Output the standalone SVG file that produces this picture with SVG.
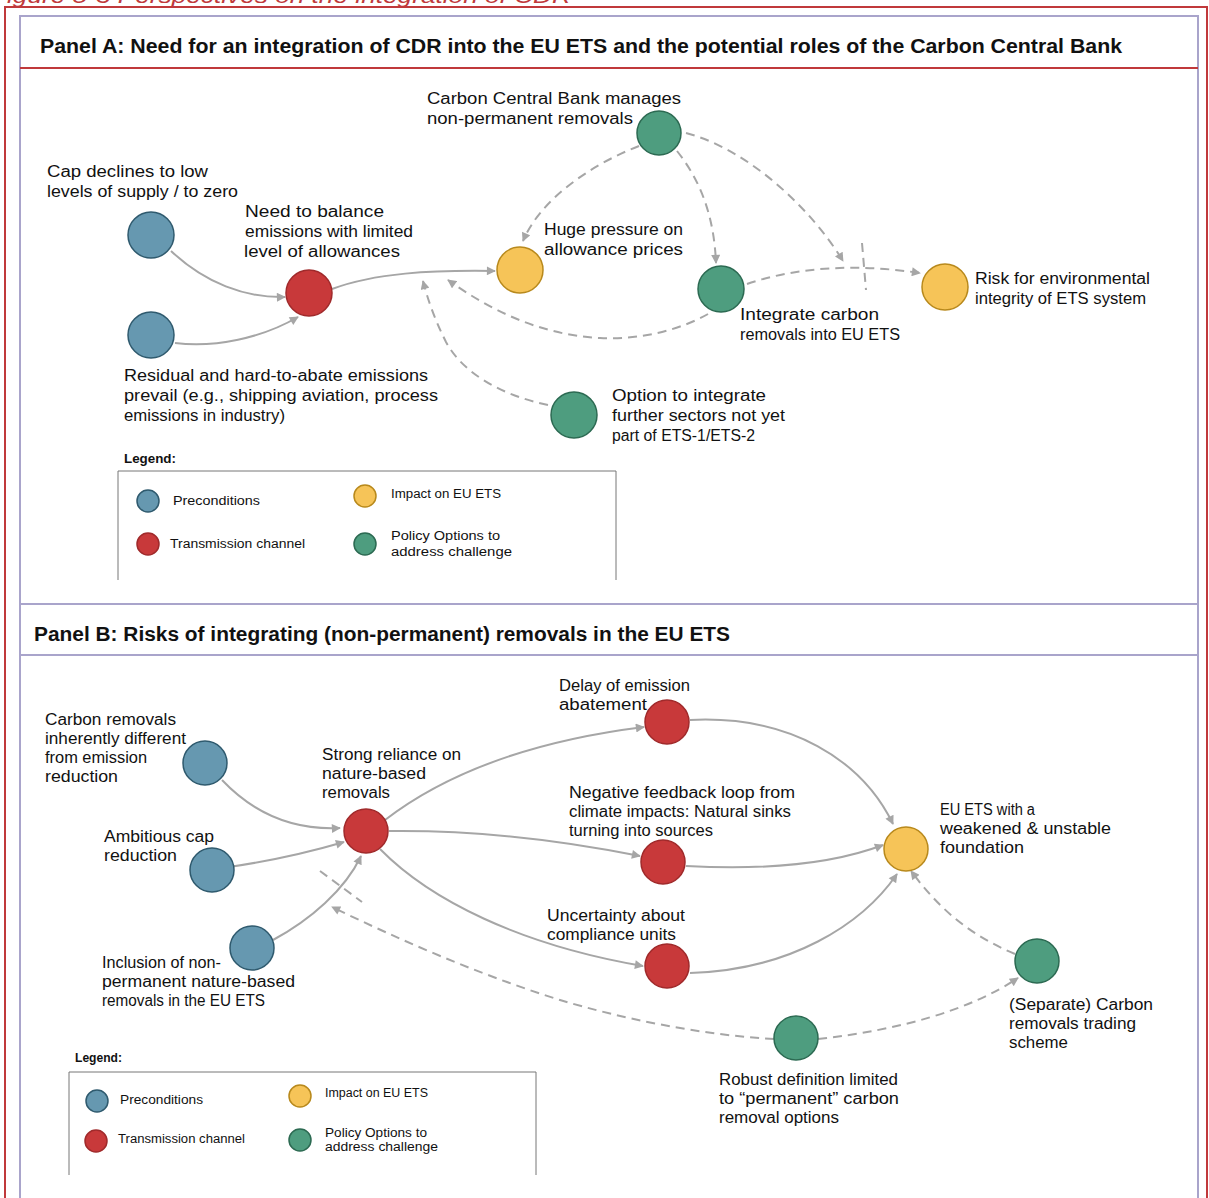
<svg xmlns="http://www.w3.org/2000/svg" width="1209" height="1198" viewBox="0 0 1209 1198">
  <style>
    .t { font-family: "Liberation Sans", Arial, sans-serif; font-size: 16px; fill: #111; }
    .lg { font-family: "Liberation Sans", Arial, sans-serif; font-size: 12px; fill: #111; }
    .lgb { font-family: "Liberation Sans", Arial, sans-serif; font-size: 12px; font-weight: bold; fill: #111; }
    .ttl { font-family: "Liberation Sans", Arial, sans-serif; font-size: 20px; font-weight: bold; fill: #111; }
    .pre { fill: #6698b0; stroke: #2f5a6e; stroke-width: 1.5; }
    .tra { fill: #c8393a; stroke: #a02a2b; stroke-width: 1.5; }
    .imp { fill: #f6c458; stroke: #b8891c; stroke-width: 1.5; }
    .pol { fill: #4e9d7f; stroke: #2c6a52; stroke-width: 1.5; }
    .c { fill: none; stroke: #a6a6a6; stroke-width: 2; }
    .d { fill: none; stroke: #a6a6a6; stroke-width: 2; stroke-dasharray: 9 6; }
    .frame { fill: none; stroke: #a9a4cb; stroke-width: 2; }
  </style>
  <defs>
    <marker id="arr" viewBox="0 0 10 10" refX="9" refY="5" markerWidth="10" markerHeight="9" markerUnits="userSpaceOnUse" orient="auto">
      <path d="M0,0 L10,5 L0,10 z" fill="#a6a6a6"/>
    </marker>
  </defs>

  <rect width="1209" height="1198" fill="#ffffff"/>

  <!-- figure caption, partly above the page edge -->
  <text x="-9" y="3" font-family="Liberation Sans, Arial, sans-serif" font-size="20" font-style="italic" fill="#c0393b" textLength="580" lengthAdjust="spacingAndGlyphs">Figure 5-3 Perspectives on the integration of CDR</text>

  <!-- outer red frame -->
  <rect x="5" y="7" width="1202" height="1205" fill="none" stroke="#c0393b" stroke-width="2"/>

  <!-- panel frames -->
  <rect class="frame" x="20" y="16" width="1178" height="588"/>
  <line x1="20" y1="68" x2="1198" y2="68" stroke="#c0393b" stroke-width="2"/>
  <rect class="frame" x="20" y="604" width="1178" height="610"/>
  <line x1="20" y1="655" x2="1198" y2="655" stroke="#a9a4cb" stroke-width="2"/>

  <text class="ttl" x="40" y="53" textLength="1082" lengthAdjust="spacingAndGlyphs">Panel A: Need for an integration of CDR into the EU ETS and the potential roles of the Carbon Central Bank</text>
  <text class="ttl" x="34" y="641" textLength="696" lengthAdjust="spacingAndGlyphs">Panel B: Risks of integrating (non-permanent) removals in the EU ETS</text>

  <!-- connectors -->
  <g id="connectors">
    <!-- Panel A -->
    <path class="c" d="M171,251 C205,283 245,298 285,297" marker-end="url(#arr)"/>
    <path class="c" d="M175,343 C215,348 262,338 298,317" marker-end="url(#arr)"/>
    <path class="c" d="M332,289 C375,273 430,270 495,271" marker-end="url(#arr)"/>
    <path class="d" d="M639,146 C590,165 540,200 523,241" marker-end="url(#arr)"/>
    <path class="d" d="M677,151 C700,180 714,215 716,263" marker-end="url(#arr)"/>
    <path class="d" d="M686,133 C750,150 812,210 843,261" marker-end="url(#arr)"/>
    <path class="d" d="M747,284 C800,266 860,264 920,273" marker-end="url(#arr)"/>
    <path class="d" d="M862,243 L866,290"/>
    <path class="d" d="M708,314 C680,330 640,340 600,338 C540,335 490,310 448,280" marker-end="url(#arr)"/>
    <path class="d" d="M548,405 C500,395 462,372 446,342 C434,318 428,300 423,281" marker-end="url(#arr)"/>
    <!-- Panel B -->
    <path class="c" d="M222,780 C258,818 298,830 340,828" marker-end="url(#arr)"/>
    <path class="c" d="M229,867 C270,861 310,852 344,842" marker-end="url(#arr)"/>
    <path class="c" d="M273,940 C310,920 345,890 361,856" marker-end="url(#arr)"/>
    <path class="c" d="M385,820 C450,770 540,740 644,727" marker-end="url(#arr)"/>
    <path class="c" d="M389,831 C470,830 560,840 640,856" marker-end="url(#arr)"/>
    <path class="c" d="M380,849 C430,900 520,945 643,966" marker-end="url(#arr)"/>
    <path class="c" d="M690,720 C790,715 862,760 893,824" marker-end="url(#arr)"/>
    <path class="c" d="M686,866 C760,870 830,865 883,845" marker-end="url(#arr)"/>
    <path class="c" d="M690,973 C790,970 862,925 897,874" marker-end="url(#arr)"/>
    <path class="d" d="M1015,954 C970,935 940,910 911,871" marker-end="url(#arr)"/>
    <path class="d" d="M818,1039 C900,1030 970,1010 1018,978" marker-end="url(#arr)"/>
    <path class="d" d="M774,1039 C700,1035 620,1018 560,1000 C480,975 400,940 332,907" marker-end="url(#arr)"/>
    <path class="d" d="M320,871 L362,902"/>
  </g>

  <!-- Panel A nodes -->
  <g id="a-cap">
    <circle class="pre" cx="151" cy="235" r="23"/>
    <text class="t" x="47" y="177" textLength="161" lengthAdjust="spacingAndGlyphs">Cap declines to low</text>
    <text class="t" x="47" y="197" textLength="191" lengthAdjust="spacingAndGlyphs">levels of supply / to zero</text>
  </g>
  <g id="a-residual">
    <circle class="pre" cx="151" cy="335" r="23"/>
    <text class="t" x="124" y="381" textLength="304" lengthAdjust="spacingAndGlyphs">Residual and hard-to-abate emissions</text>
    <text class="t" x="124" y="401" textLength="314" lengthAdjust="spacingAndGlyphs">prevail (e.g., shipping aviation, process</text>
    <text class="t" x="124" y="421" textLength="161" lengthAdjust="spacingAndGlyphs">emissions in industry)</text>
  </g>
  <g id="a-balance">
    <circle class="tra" cx="309" cy="293" r="23"/>
    <text class="t" x="245" y="217" textLength="139" lengthAdjust="spacingAndGlyphs">Need to balance</text>
    <text class="t" x="245" y="237" textLength="168" lengthAdjust="spacingAndGlyphs">emissions with limited</text>
    <text class="t" x="244" y="257" textLength="156" lengthAdjust="spacingAndGlyphs">level of allowances</text>
  </g>
  <g id="a-pressure">
    <circle class="imp" cx="520" cy="270" r="23"/>
    <text class="t" x="544" y="235" textLength="139" lengthAdjust="spacingAndGlyphs">Huge pressure on</text>
    <text class="t" x="544" y="255" textLength="139" lengthAdjust="spacingAndGlyphs">allowance prices</text>
  </g>
  <g id="a-ccb">
    <circle class="pol" cx="659" cy="133" r="22"/>
    <text class="t" x="427" y="104" textLength="254" lengthAdjust="spacingAndGlyphs">Carbon Central Bank manages</text>
    <text class="t" x="427" y="124" textLength="206" lengthAdjust="spacingAndGlyphs">non-permanent removals</text>
  </g>
  <g id="a-integrate">
    <circle class="pol" cx="721" cy="289" r="23"/>
    <text class="t" x="740" y="320" textLength="139" lengthAdjust="spacingAndGlyphs">Integrate carbon</text>
    <text class="t" x="740" y="340" textLength="160" lengthAdjust="spacingAndGlyphs">removals into EU ETS</text>
  </g>
  <g id="a-risk">
    <circle class="imp" cx="945" cy="287" r="23"/>
    <text class="t" x="975" y="284" textLength="175" lengthAdjust="spacingAndGlyphs">Risk for environmental</text>
    <text class="t" x="975" y="304" textLength="171" lengthAdjust="spacingAndGlyphs">integrity of ETS system</text>
  </g>
  <g id="a-option">
    <circle class="pol" cx="574" cy="415" r="23"/>
    <text class="t" x="612" y="401" textLength="154" lengthAdjust="spacingAndGlyphs">Option to integrate</text>
    <text class="t" x="612" y="421" textLength="173" lengthAdjust="spacingAndGlyphs">further sectors not yet</text>
    <text class="t" x="612" y="441" textLength="143" lengthAdjust="spacingAndGlyphs">part of ETS-1/ETS-2</text>
  </g>

  <!-- Panel A legend -->
  <g id="a-legend">
    <text class="lgb" x="124" y="463" textLength="52" lengthAdjust="spacingAndGlyphs">Legend:</text>
    <path d="M118,580 V471 H616 V580" fill="none" stroke="#777" stroke-width="1"/>
    <circle class="pre" cx="148" cy="501" r="11"/>
    <text class="lg" x="173" y="505" textLength="87" lengthAdjust="spacingAndGlyphs">Preconditions</text>
    <circle class="tra" cx="148" cy="544" r="11"/>
    <text class="lg" x="170" y="548" textLength="135" lengthAdjust="spacingAndGlyphs">Transmission channel</text>
    <circle class="imp" cx="365" cy="496" r="11"/>
    <text class="lg" x="391" y="498" textLength="110" lengthAdjust="spacingAndGlyphs">Impact on EU ETS</text>
    <circle class="pol" cx="365" cy="544" r="11"/>
    <text class="lg" x="391" y="540" textLength="109" lengthAdjust="spacingAndGlyphs">Policy Options to</text>
    <text class="lg" x="391" y="556" textLength="121" lengthAdjust="spacingAndGlyphs">address challenge</text>
  </g>

  <!-- Panel B nodes -->
  <g id="b-different">
    <circle class="pre" cx="205" cy="763" r="22"/>
    <text class="t" x="45" y="725" textLength="131" lengthAdjust="spacingAndGlyphs">Carbon removals</text>
    <text class="t" x="45" y="744" textLength="141" lengthAdjust="spacingAndGlyphs">inherently different</text>
    <text class="t" x="45" y="763" textLength="102" lengthAdjust="spacingAndGlyphs">from emission</text>
    <text class="t" x="45" y="782" textLength="73" lengthAdjust="spacingAndGlyphs">reduction</text>
  </g>
  <g id="b-ambitious">
    <circle class="pre" cx="212" cy="870" r="22"/>
    <text class="t" x="104" y="842" textLength="110" lengthAdjust="spacingAndGlyphs">Ambitious cap</text>
    <text class="t" x="104" y="861" textLength="73" lengthAdjust="spacingAndGlyphs">reduction</text>
  </g>
  <g id="b-inclusion">
    <circle class="pre" cx="252" cy="948" r="22"/>
    <text class="t" x="102" y="968" textLength="119" lengthAdjust="spacingAndGlyphs">Inclusion of non-</text>
    <text class="t" x="102" y="987" textLength="193" lengthAdjust="spacingAndGlyphs">permanent nature-based</text>
    <text class="t" x="102" y="1006" textLength="163" lengthAdjust="spacingAndGlyphs">removals in the EU ETS</text>
  </g>
  <g id="b-reliance">
    <circle class="tra" cx="366" cy="831" r="22"/>
    <text class="t" x="322" y="760" textLength="139" lengthAdjust="spacingAndGlyphs">Strong reliance on</text>
    <text class="t" x="322" y="779" textLength="104" lengthAdjust="spacingAndGlyphs">nature-based</text>
    <text class="t" x="322" y="798" textLength="68" lengthAdjust="spacingAndGlyphs">removals</text>
  </g>
  <g id="b-delay">
    <circle class="tra" cx="667" cy="722" r="22"/>
    <text class="t" x="559" y="691" textLength="131" lengthAdjust="spacingAndGlyphs">Delay of emission</text>
    <text class="t" x="559" y="710" textLength="88" lengthAdjust="spacingAndGlyphs">abatement</text>
  </g>
  <g id="b-feedback">
    <circle class="tra" cx="663" cy="862" r="22"/>
    <text class="t" x="569" y="798" textLength="226" lengthAdjust="spacingAndGlyphs">Negative feedback loop from</text>
    <text class="t" x="569" y="817" textLength="222" lengthAdjust="spacingAndGlyphs">climate impacts: Natural sinks</text>
    <text class="t" x="569" y="836" textLength="144" lengthAdjust="spacingAndGlyphs">turning into sources</text>
  </g>
  <g id="b-uncertainty">
    <circle class="tra" cx="667" cy="966" r="22"/>
    <text class="t" x="547" y="921" textLength="138" lengthAdjust="spacingAndGlyphs">Uncertainty about</text>
    <text class="t" x="547" y="940" textLength="129" lengthAdjust="spacingAndGlyphs">compliance units</text>
  </g>
  <g id="b-weakened">
    <circle class="imp" cx="906" cy="849" r="22"/>
    <text class="t" x="940" y="815" textLength="95" lengthAdjust="spacingAndGlyphs">EU ETS with a</text>
    <text class="t" x="940" y="834" textLength="171" lengthAdjust="spacingAndGlyphs">weakened  &amp; unstable</text>
    <text class="t" x="940" y="853" textLength="84" lengthAdjust="spacingAndGlyphs">foundation</text>
  </g>
  <g id="b-separate">
    <circle class="pol" cx="1037" cy="961" r="22"/>
    <text class="t" x="1009" y="1010" textLength="144" lengthAdjust="spacingAndGlyphs">(Separate) Carbon</text>
    <text class="t" x="1009" y="1029" textLength="127" lengthAdjust="spacingAndGlyphs">removals trading</text>
    <text class="t" x="1009" y="1048" textLength="59" lengthAdjust="spacingAndGlyphs">scheme</text>
  </g>
  <g id="b-robust">
    <circle class="pol" cx="796" cy="1038" r="22"/>
    <text class="t" x="719" y="1085" textLength="179" lengthAdjust="spacingAndGlyphs">Robust definition limited</text>
    <text class="t" x="719" y="1104" textLength="180" lengthAdjust="spacingAndGlyphs">to “permanent” carbon</text>
    <text class="t" x="719" y="1123" textLength="120" lengthAdjust="spacingAndGlyphs">removal options</text>
  </g>

  <!-- Panel B legend -->
  <g id="b-legend">
    <text class="lgb" x="75" y="1062" font-size="11" textLength="47" lengthAdjust="spacingAndGlyphs">Legend:</text>
    <path d="M69,1175 V1072 H536 V1175" fill="none" stroke="#777" stroke-width="1"/>
    <circle class="pre" cx="97" cy="1101" r="11"/>
    <text class="lg" x="120" y="1104" font-size="11" textLength="83" lengthAdjust="spacingAndGlyphs">Preconditions</text>
    <circle class="tra" cx="96" cy="1141" r="11"/>
    <text class="lg" x="118" y="1143" font-size="11" textLength="127" lengthAdjust="spacingAndGlyphs">Transmission channel</text>
    <circle class="imp" cx="300" cy="1096" r="11"/>
    <text class="lg" x="325" y="1097" font-size="11" textLength="103" lengthAdjust="spacingAndGlyphs">Impact on EU ETS</text>
    <circle class="pol" cx="300" cy="1140" r="11"/>
    <text class="lg" x="325" y="1137" font-size="11" textLength="102" lengthAdjust="spacingAndGlyphs">Policy Options to</text>
    <text class="lg" x="325" y="1151" font-size="11" textLength="113" lengthAdjust="spacingAndGlyphs">address challenge</text>
  </g>
</svg>
